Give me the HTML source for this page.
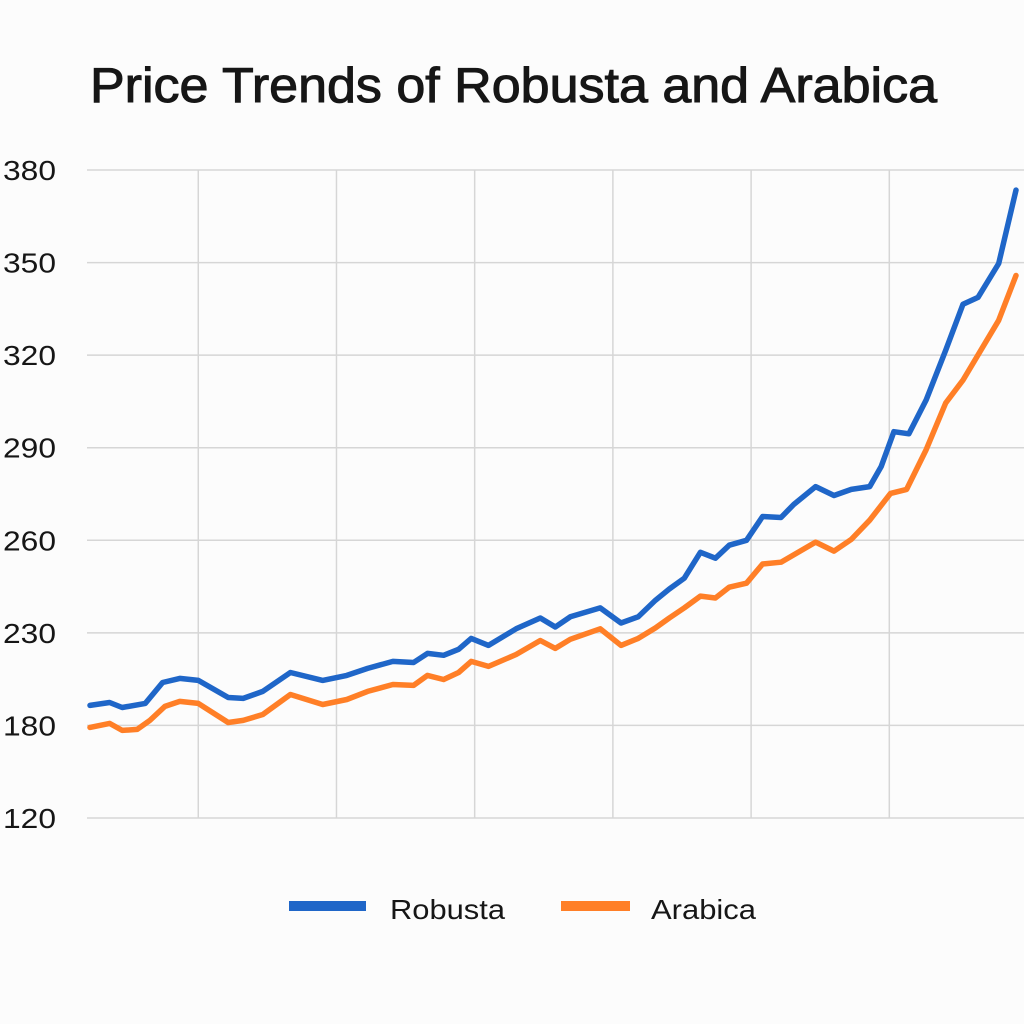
<!DOCTYPE html>
<html><head><meta charset="utf-8"><style>
html,body{margin:0;padding:0;background:#fcfcfc;}
svg{display:block;font-family:"Liberation Sans",sans-serif;}
</style></head><body>
<svg id="chart" width="1024" height="1024" viewBox="0 0 1024 1024">
<rect x="0" y="0" width="1024" height="1024" fill="#fcfcfc"/>
<text x="90" y="102" font-size="49" fill="#161616" stroke="#161616" stroke-width="1" textLength="847" lengthAdjust="spacingAndGlyphs">Price Trends of Robusta and Arabica</text>
<g id="grid"></g>
<g id="yticks"></g>
<g id="series"></g>
<g>
<rect x="289" y="901" width="77" height="10" fill="#1f66c8"/>
<text x="390" y="919" font-size="28" fill="#161616" textLength="115" lengthAdjust="spacingAndGlyphs">Robusta</text>
<rect x="561" y="901" width="69" height="10" fill="#ff7f27"/>
<text x="651" y="919" font-size="28" fill="#161616" textLength="105" lengthAdjust="spacingAndGlyphs">Arabica</text>
</g>
</svg>
<script>
const yTicks = [120,180,230,260,290,320,350,380];
const xGridTicks = [9.4,21.4,33.4,45.4,57.4,69.4];
const robustaX = [0,1.7,2.8,4.8,6.3,7.8,9.4,12.0,13.3,15.0,17.4,20.2,22.3,24.1,26.3,28.1,29.3,30.7,32.0,33.1,34.6,37.0,39.1,40.4,41.7,44.3,46.1,47.6,49.1,50.3,51.6,53.0,54.3,55.5,57.0,58.4,60.0,61.1,63.0,64.6,66.1,67.7,68.7,69.8,71.1,72.6,74.3,75.8,77.1,78.9,80.4];
const robustaY = [190.8,192.4,189.7,191.9,203.2,205.4,204.3,195.1,194.6,198.4,208.6,204.3,207.0,210.8,214.6,214.0,218.9,217.9,221.1,227.0,223.2,231.3,234.8,231.9,235.2,238.1,233.2,235.2,240.6,244.2,247.7,256.1,254.2,258.4,260,267.7,267.4,271.6,277.4,274.5,276.5,277.4,283.9,295.2,294.5,305.5,321.6,336.5,338.7,349.7,373.5];
const arabicaX = [0,1.7,2.8,4.1,5.2,6.5,7.8,9.4,12.0,13.3,15.0,17.4,20.2,22.3,24.1,26.3,28.1,29.3,30.7,32.0,33.1,34.6,37.0,39.1,40.4,41.7,44.3,46.1,47.6,49.1,50.3,51.6,53.0,54.3,55.5,57.0,58.4,60.0,63.0,64.6,66.1,67.7,69.5,70.9,72.6,74.3,75.8,78.9,80.4];
const arabicaY = [178.7,181.1,176.8,177.4,182.7,190.3,193.0,191.9,181.6,182.7,185.9,196.7,191.3,194.0,198.4,202.1,201.6,207.0,204.8,208.6,214.6,211.9,218.3,225.9,221.6,226.5,231.3,223.2,227.0,231.6,234.8,238.1,241.9,241.3,244.8,246.1,252.3,252.9,259.4,256.5,260.3,266.5,275.2,276.5,289.4,304.5,311.9,331.3,345.8];

const NS = "http://www.w3.org/2000/svg";
const X0 = 90, X1 = 1016, XMAX = 80.4;
const YBOT = 818, STEP = 92.57;
function xScale(t){ return X0 + (t / XMAX) * (X1 - X0); }
function yScale(v){
  for (let i = 0; i < yTicks.length - 1; i++) {
    if (v <= yTicks[i+1] || i === yTicks.length - 2) {
      const f = (v - yTicks[i]) / (yTicks[i+1] - yTicks[i]);
      return YBOT - (i + f) * STEP;
    }
  }
}
function mk(tag, attrs){ const e = document.createElementNS(NS, tag); for (const k in attrs) e.setAttribute(k, attrs[k]); return e; }

const grid = document.getElementById('grid');
const yt = document.getElementById('yticks');
yTicks.forEach(v => {
  const y = yScale(v);
  const l = mk('line', {x1: 87, x2: 1024, y1: y, y2: y, stroke: '#d6d6d6', 'stroke-width': 1.5});
  
  
  grid.appendChild(l);
  const t = mk('text', {x: 3, y: y + 10, 'font-size': 28, fill: '#161616', textLength: 53, lengthAdjust: 'spacingAndGlyphs'});
  t.textContent = v;
  
  
  yt.appendChild(t);
});
xGridTicks.forEach(t => {
  const x = xScale(t);
  const l = mk('line', {x1: x, x2: x, y1: yScale(380), y2: YBOT, stroke: '#d6d6d6', 'stroke-width': 1.5});
  
  
  grid.appendChild(l);
});
const series = document.getElementById('series');
function drawLine(xs, ys, color, name){
  const pts = xs.map((t, i) => xScale(t).toFixed(1) + ',' + yScale(ys[i]).toFixed(1)).join(' ');
  const p = mk('polyline', {points: pts, fill: 'none', stroke: color, 'stroke-width': 5.5, 'stroke-linejoin': 'round', 'stroke-linecap': 'round'});
  
  
  series.appendChild(p);
}
drawLine(arabicaX, arabicaY, '#ff7f27', 'arabica-line');
drawLine(robustaX, robustaY, '#1f66c8', 'robusta-line');
</script>
</body></html>
